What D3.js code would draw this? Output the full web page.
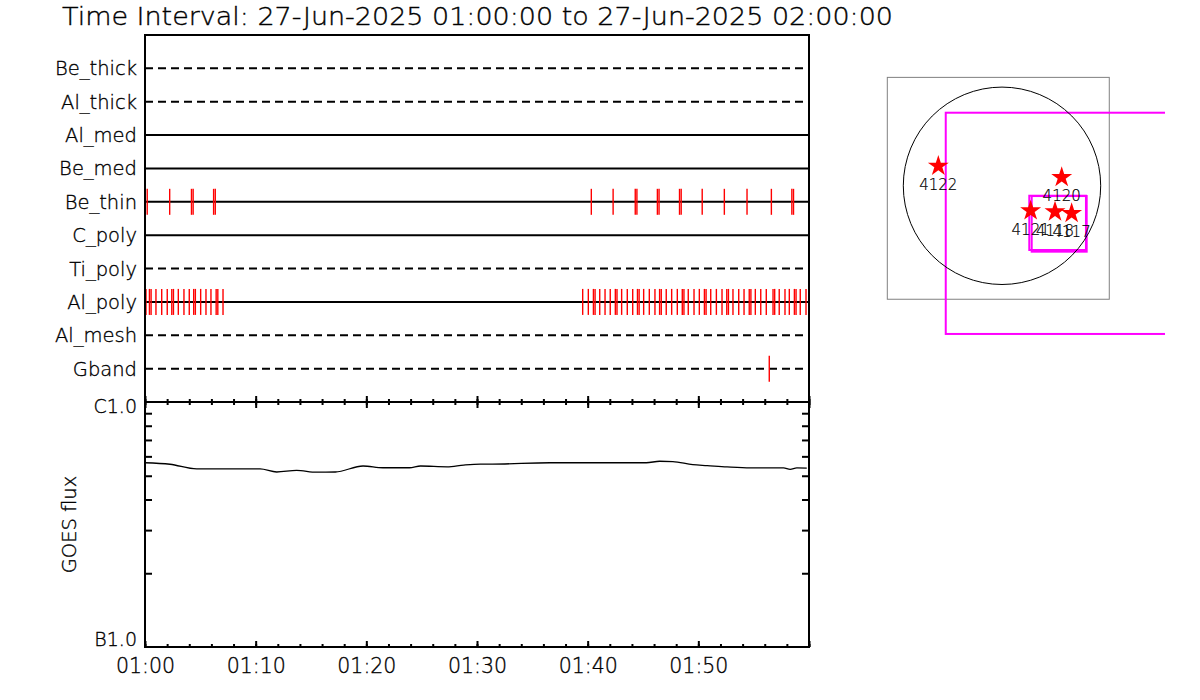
<!DOCTYPE html>
<html lang="en">
<head>
<meta charset="utf-8">
<title>Time Interval</title>
<script src="https://d3js.org/d3.v7.min.js"></script>
<style>
  body { margin: 0; background: #fff; }
  svg text { font-family: "DejaVu Sans", sans-serif; font-weight: 200; fill: #000; stroke: #000; stroke-width: 0.35px; }
  .axis path { display: none; }
  .axis line { stroke: #000; stroke-width: 2px; }
</style>
</head>
<body>
<div id="viz"></div>
<script>
// ---- data ----
var title = "Time Interval: 27-Jun-2025 01:00:00 to 27-Jun-2025 02:00:00";
var t0 = new Date(Date.UTC(2025, 5, 27, 1, 0, 0));
var t1 = new Date(Date.UTC(2025, 5, 27, 2, 0, 0));

var rows = ["Be_thick", "Al_thick", "Al_med", "Be_med", "Be_thin", "C_poly", "Ti_poly", "Al_poly", "Al_mesh", "Gband"];
var rowDashed = [true, true, false, false, false, false, true, false, true, true];

// event times, minutes after 01:00 (close pairs show as thick ticks)
var beThinEvents = [0.2, 2.23, 4.2, 4.35, 6.2, 6.35, 40.33, 42.3, 44.3, 44.45, 46.3, 46.45,
  48.3, 48.45, 50.35, 52.35, 54.4, 56.6, 58.45, 58.6];
var alPolyEvents = [0.09, 0.4, 0.55, 0.99, 1.51, 2.01, 2.42, 2.57, 3.01, 3.52, 4.0, 4.4, 4.55,
  5.03, 5.51, 5.96, 6.43, 6.58, 7.05,
  39.55, 40.06, 40.52, 40.67, 41.09, 41.57, 42.04, 42.5, 42.65, 43.07, 43.58, 44.07, 44.5, 44.65,
  45.06, 45.57, 46.08, 46.5, 46.65, 47.1, 47.59, 48.1, 48.55, 48.7, 49.09, 49.61, 50.09, 50.55, 50.7,
  51.12, 51.63, 52.14, 52.57, 52.72, 53.13, 53.65, 54.13, 54.6, 54.75, 55.15, 55.64, 56.14, 56.75, 56.9,
  57.31, 57.83, 58.22, 58.68, 58.83, 59.21, 59.73];
var gbandEvents = [56.41];

var goesMinutes = [0, 2.26, 4.67, 10.4, 11.9, 13.7, 15.5, 17.2, 19.7, 21.5, 23.9, 24.9, 27.3, 28.8,
  30.3, 31.4, 36.6, 45.3, 46.5, 47.7, 49.5, 50.8, 52.6, 54.7, 57.7, 58.3, 58.9, 59.8];
var goesFlux = [5.65e-7, 5.57e-7, 5.33e-7, 5.33e-7, 5.18e-7, 5.26e-7, 5.17e-7, 5.18e-7, 5.48e-7, 5.39e-7,
  5.39e-7, 5.48e-7, 5.44e-7, 5.53e-7, 5.58e-7, 5.58e-7, 5.65e-7, 5.65e-7, 5.73e-7, 5.71e-7, 5.55e-7,
  5.50e-7, 5.43e-7, 5.38e-7, 5.38e-7, 5.31e-7, 5.38e-7, 5.37e-7];
var goesMinor = [2e-7, 3e-7, 4e-7, 5e-7, 6e-7, 7e-7, 8e-7, 9e-7];
var xTickLabels = ["01:00", "01:10", "01:20", "01:30", "01:40", "01:50"];

// map, arcsec
var solarRadius = 944;
var fovBoxes = [
  {x0: -1097, x1: 1026, y0: -1085, y1: 1037, kind: "gray"},
  {x0: -538, x1: 1578, y0: -1417, y1: 699, kind: "mag"},
  {x0: 261, x1: 803, y0: -614, y1: -95, kind: "mag"},
  {x0: 284, x1: 810, y0: -630, y1: -98, kind: "mag"}
];
var arNames = ["4122", "4120", "4121", "4118", "4117"];
var arX = [-609, 571, 274, 507, 666];
var arY = [189, 81, -238, -248, -263];

// ---- layout ----
var W = 1200, H = 700;
var svg = d3.select("#viz").append("svg").attr("width", W).attr("height", H);

var x = d3.scaleUtc().domain([t0, t1]).range([145, 809]);
var yTop = 35, yMid = 402, yBot = 647;
var yRow = d3.scalePoint().domain(rows).range([yTop, yMid]).padding(1);
var yG = d3.scaleLog().domain([1e-7, 1e-6]).range([yBot, yMid]);
function tm(m) { return new Date(t0.getTime() + m * 60000); }

svg.append("text").attr("x", 62).attr("y", 25).attr("textLength", 831)
  .attr("lengthAdjust", "spacingAndGlyphs").style("font-size", "24px").text(title);

// row lines
svg.append("g").selectAll("line").data(rows).enter().append("line")
  .attr("x1", x(t0)).attr("x2", x(t1))
  .attr("y1", function(d) { return yRow(d); }).attr("y2", function(d) { return yRow(d); })
  .attr("stroke", "#000").attr("stroke-width", 2)
  .attr("stroke-dasharray", function(d, i) { return rowDashed[i] ? "8,5" : null; });

svg.append("g").selectAll("text").data(rows).enter().append("text")
  .attr("x", 137).attr("y", function(d) { return yRow(d); }).attr("dy", "0.36em")
  .attr("text-anchor", "end").style("font-size", "19.5px").text(function(d) { return d; });

// event ticks
var events = [["Be_thin", beThinEvents], ["Al_poly", alPolyEvents], ["Gband", gbandEvents]];
events.forEach(function(ev) {
  svg.append("g").selectAll("line").data(ev[1]).enter().append("line")
    .attr("x1", function(d) { return x(tm(d)); }).attr("x2", function(d) { return x(tm(d)); })
    .attr("y1", yRow(ev[0]) - 13).attr("y2", yRow(ev[0]) + 13)
    .attr("stroke", "#f00").attr("stroke-width", 1.4);
});

// frames
svg.append("rect").attr("x", x(t0)).attr("y", yTop).attr("width", x(t1) - x(t0)).attr("height", yMid - yTop)
  .attr("fill", "none").attr("stroke", "#000").attr("stroke-width", 2);
svg.append("rect").attr("x", x(t0)).attr("y", yMid).attr("width", x(t1) - x(t0)).attr("height", yBot - yMid)
  .attr("fill", "none").attr("stroke", "#000").attr("stroke-width", 2);

// x ticks at shared line and bottom
var major = d3.utcMinute.every(10), minor = d3.utcMinute.every(2);
svg.append("g").attr("class", "axis").attr("transform", "translate(0," + yMid + ")")
  .call(d3.axisTop(x).ticks(major).tickSize(6).tickFormat(""));
svg.append("g").attr("class", "axis").attr("transform", "translate(0," + yMid + ")")
  .call(d3.axisTop(x).ticks(minor).tickSize(3).tickFormat(""));
svg.append("g").attr("class", "axis").attr("transform", "translate(0," + yMid + ")")
  .call(d3.axisBottom(x).ticks(major).tickSize(6).tickFormat(""));
svg.append("g").attr("class", "axis").attr("transform", "translate(0," + yMid + ")")
  .call(d3.axisBottom(x).ticks(minor).tickSize(3).tickFormat(""));
svg.append("g").attr("class", "axis").attr("transform", "translate(0," + yBot + ")")
  .call(d3.axisTop(x).ticks(minor).tickSize(3).tickFormat(""));
svg.append("g").attr("class", "axis").attr("transform", "translate(0," + yBot + ")")
  .call(d3.axisTop(x).ticks(major).tickSize(6).tickFormat(""));

var labelAxis = svg.append("g").attr("class", "axis").attr("transform", "translate(0," + yBot + ")")
  .call(d3.axisBottom(x).tickValues(xTickLabels.map(function(s, i) { return tm(i * 10); }))
    .tickSize(0).tickPadding(11).tickFormat(function(d, i) { return xTickLabels[i]; }));
labelAxis.selectAll("text").style("font-size", "20.5px").attr("font-family", null);

// y ticks on GOES panel
svg.append("g").attr("class", "axis").attr("transform", "translate(" + x(t0) + ",0)")
  .call(d3.axisRight(yG).tickValues(goesMinor).tickSize(7).tickFormat(""));
svg.append("g").attr("class", "axis").attr("transform", "translate(" + x(t1) + ",0)")
  .call(d3.axisLeft(yG).tickValues(goesMinor).tickSize(7).tickFormat(""));

svg.append("text").attr("x", 137).attr("y", yG(1e-6)).attr("dy", "0.6em").attr("text-anchor", "end")
  .style("font-size", "19px").text("C1.0");
svg.append("text").attr("x", 137).attr("y", yG(1e-7)).attr("dy", "-0.05em").attr("text-anchor", "end")
  .style("font-size", "19px").text("B1.0");
svg.append("text").attr("transform", "translate(76," + ((yMid + yBot) / 2) + ") rotate(-90)")
  .attr("text-anchor", "middle").style("font-size", "19.5px").text("GOES flux");

var goesLine = d3.line()
  .x(function(d, i) { return x(tm(goesMinutes[i])); })
  .y(function(d) { return yG(d); })
  .curve(d3.curveMonotoneX);
svg.append("path").datum(goesFlux).attr("d", goesLine)
  .attr("fill", "none").attr("stroke", "#000").attr("stroke-width", 1.3);

// ---- solar map ----
var k = 98.7 / solarRadius;
var mx = d3.scaleLinear().domain([0, 1]).range([1002, 1002 + k]);
var my = d3.scaleLinear().domain([0, 1]).range([185.8, 185.8 - k]);

svg.append("clipPath").attr("id", "mapclip").append("rect")
  .attr("x", 860).attr("y", 40).attr("width", 305).attr("height", 320);
var map = svg.append("g").attr("clip-path", "url(#mapclip)");

map.selectAll("rect").data(fovBoxes).enter().append("rect")
  .attr("x", function(d) { return mx(d.x0); }).attr("y", function(d) { return my(d.y1); })
  .attr("width", function(d) { return mx(d.x1) - mx(d.x0); })
  .attr("height", function(d) { return my(d.y0) - my(d.y1); })
  .attr("fill", "none")
  .attr("stroke", function(d) { return d.kind == "gray" ? "#808080" : "#ff00ff"; })
  .attr("stroke-width", function(d) { return d.kind == "gray" ? 1 : 2; });

map.append("circle").attr("cx", mx(0)).attr("cy", my(0)).attr("r", mx(solarRadius) - mx(0))
  .attr("fill", "none").attr("stroke", "#000").attr("stroke-width", 1);

var star = d3.symbol().type(d3.symbolStar).size(136);
map.selectAll("path.star").data(arNames).enter().append("path").attr("class", "star")
  .attr("transform", function(d, i) { return "translate(" + mx(arX[i]) + "," + my(arY[i]) + ")"; })
  .attr("d", star).attr("fill", "#f00");
map.selectAll("text.ar").data(arNames).enter().append("text").attr("class", "ar")
  .attr("x", function(d, i) { return mx(arX[i]); }).attr("y", function(d, i) { return my(arY[i]) + 24; })
  .attr("text-anchor", "middle").style("font-size", "15px").style("stroke-width", "0.2px")
  .text(function(d) { return d; });
</script>
</body>
</html>
